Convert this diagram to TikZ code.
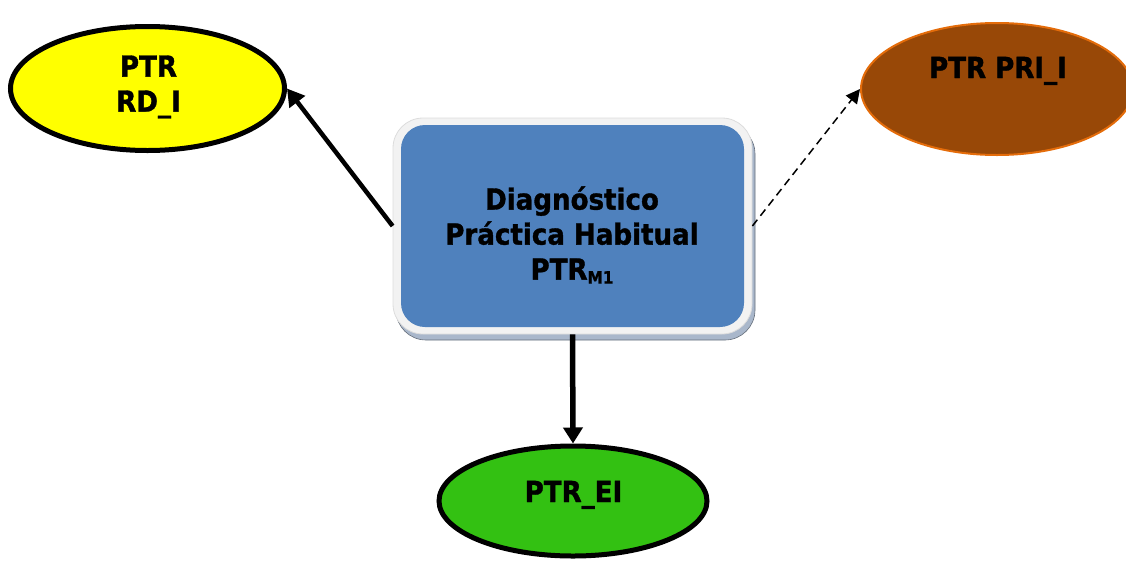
\documentclass[tikz,border=0pt]{standalone}
\usepackage{fontspec}
\setmainfont{DejaVu Sans}[FakeStretch=0.9, BoldFeatures={FakeBold=1.2}]
\usetikzlibrary{shapes.geometric,arrows.meta,shadows}

\definecolor{ptryellow}{HTML}{FFFF00}
\definecolor{ptrbrown}{HTML}{984807}
\definecolor{ptrorange}{HTML}{E46C0A}
\definecolor{ptrgreen}{HTML}{33C112}
\definecolor{boxblue}{HTML}{4F81BD}
\definecolor{boxframe}{HTML}{F2F2F2}
\definecolor{boxedge}{HTML}{DCDCDC}
\definecolor{shadowfill}{HTML}{A9B7CB}

\begin{document}
\begin{tikzpicture}[x=1pt,y=-1pt,
  lbl/.style={font=\bfseries\fontsize{29}{35}\selectfont, align=center, inner sep=0pt, text=black},
  bubble/.style={ellipse, inner sep=0pt},
  frame/.style={rectangle, rounded corners=30pt, fill=boxframe, draw=boxedge, line width=0.8pt,
    minimum width=359pt, minimum height=216pt, inner sep=0pt,
    drop shadow={shadow xshift=3pt, shadow yshift=-6pt, fill=shadowfill, draw=shadowfill!60!black,
      line width=0.6pt, opacity=1}},
  face/.style={rectangle, rounded corners=24pt, fill=boxblue,
    minimum width=343pt, minimum height=202pt, inner sep=0pt},
  solidlink/.style={line width=4.5pt, -{Triangle[length=17pt,width=19pt]}},
  downlink/.style={line width=5.5pt, -{Triangle[length=16pt,width=19pt]}},
  dashlink/.style={line width=1.5pt, dash pattern=on 8pt off 5pt, -{Triangle[length=14pt,width=14pt]}}]

\useasboundingbox (0,0) rectangle (1126,560);

% central diagnosis box
\node[frame] (box) at (572.5,226) {};
\node[face] (face) at (box.center) {};
\node[lbl] (boxtext) at (572,235) {Diagnóstico\\Práctica Habitual\\PTR\raisebox{-4pt}{\fontsize{17}{17}\selectfont M1}};

% outcome ellipses
\node[bubble, fill=ptryellow, draw=black, line width=5pt,
  minimum width=274pt, minimum height=124pt] (rd) at (147.5,88.5) {};
\node[lbl] (rdtext) at (148.5,87) {PTR\\RD\_I};

\node[bubble, fill=ptrbrown, draw=ptrorange, line width=2pt,
  minimum width=272pt, minimum height=132pt] (pri) at (997,89) {};
\node[lbl, anchor=base] (pritext) at (998,78) {PTR PRI\_I};

\node[bubble, fill=ptrgreen, draw=black, line width=5pt,
  minimum width=268pt, minimum height=110pt] (ei) at (573,501) {};
\node[lbl, anchor=base] (eitext) at (573.5,502) {PTR\_EI};

% connectors
\draw[solidlink] (box.west) -- (rd.east);
\draw[dashlink] (box.east) -- (pri.west);
\draw[downlink] (box.south) -- (ei.north);

\end{tikzpicture}
\end{document}
